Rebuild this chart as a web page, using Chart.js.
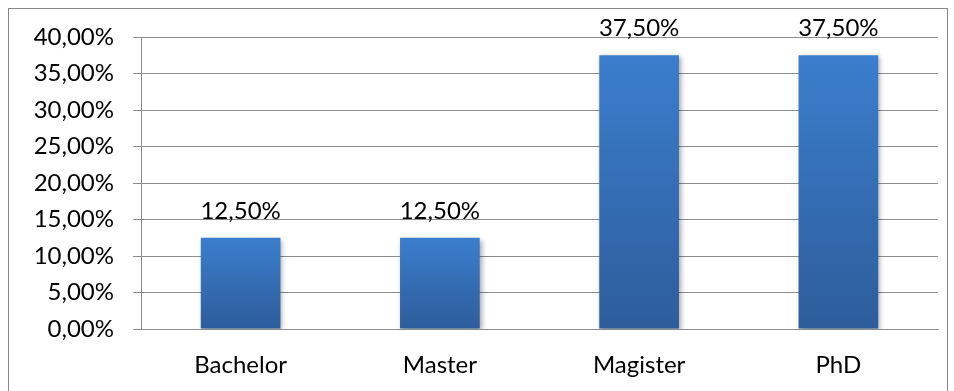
<!DOCTYPE html>
<html>
<head>
<meta charset="utf-8">
<script src="https://cdn.jsdelivr.net/npm/chart.js@4"></script>
<style>
  html, body { margin: 0; padding: 0; background: #fff; }
  #wrap { position: relative; width: 954px; height: 391px; }
</style>
</head>
<body>
<div id="wrap"><canvas id="chart" width="954" height="391"></canvas></div>
<script>
const categories = ['Bachelor', 'Master', 'Magister', 'PhD'];
const shares = [12.5, 12.5, 37.5, 37.5];
const yTicks = [0, 5, 10, 15, 20, 25, 30, 35, 40];

const FONT = 'Lato, "Open Sans", sans-serif';
const FONT_SIZE = 24;
const GRID = '#8c8c8c';

function pct(v) {
  return v.toFixed(2).replace('.', ',') + '%';
}

// outer frame of the chart object
const framePlugin = {
  id: 'frame',
  beforeDraw(chart) {
    let ctx = chart.ctx;
    ctx.save();
    ctx.strokeStyle = '#868686';
    ctx.lineWidth = 1;
    ctx.strokeRect(8.5, 8.5, 939, 420);
    ctx.restore();
  }
};

// soft shadow under the bars
const shadowPlugin = {
  id: 'barShadow',
  beforeDatasetsDraw(chart) {
    let ctx = chart.ctx;
    ctx.save();
    ctx.shadowColor = 'rgba(0,0,0,0.35)';
    ctx.shadowBlur = 5;
    ctx.shadowOffsetX = 2;
    ctx.shadowOffsetY = 2;
  },
  afterDatasetsDraw(chart) {
    chart.ctx.restore();
  }
};

// value labels above each bar
const valueLabels = {
  id: 'valueLabels',
  afterDatasetsDraw(chart) {
    let ctx = chart.ctx;
    let meta = chart.getDatasetMeta(0);
    ctx.save();
    ctx.font = FONT_SIZE + 'px ' + FONT;
    ctx.fillStyle = '#000';
    ctx.textAlign = 'center';
    ctx.textBaseline = 'alphabetic';
    meta.data.forEach((bar, i) => {
      ctx.fillText(pct(shares[i]), bar.x, bar.y - 19);
    });
    ctx.restore();
  }
};

function barGradient(context) {
  let chart = context.chart;
  let y = chart.scales.y;
  if (!chart.chartArea || !y) return '#3a7dcb';
  let v = context.raw;
  let top = y.getPixelForValue(v);
  let bottom = y.getPixelForValue(0);
  let g = chart.ctx.createLinearGradient(0, top, 0, bottom);
  g.addColorStop(0, '#3b7ecd');
  g.addColorStop(1, '#2d5d9b');
  return g;
}

new Chart(document.getElementById('chart'), {
  type: 'bar',
  data: {
    labels: categories,
    datasets: [{
      data: shares,
      backgroundColor: barGradient,
      borderWidth: 0,
      barPercentage: 0.5,
      categoryPercentage: 0.8
    }]
  },
  options: {
    responsive: false,
    animation: false,
    layout: { padding: { top: 37, right: 16, left: 0, bottom: 0 } },
    plugins: {
      legend: { display: false },
      tooltip: { enabled: false }
    },
    scales: {
      x: {
        grid: { display: false },
        border: { color: GRID, width: 1 },
        ticks: {
          color: '#000',
          font: { family: FONT, size: FONT_SIZE },
          padding: 14
        },
        afterFit(scale) { scale.height = 391 - 329; }
      },
      y: {
        min: 0,
        max: 40,
        afterBuildTicks(scale) {
          scale.ticks = yTicks.map(v => ({ value: v }));
        },
        grid: { color: GRID, lineWidth: 1, tickLength: 8 },
        border: { color: GRID, width: 1 },
        ticks: {
          color: '#000',
          font: { family: FONT, size: FONT_SIZE },
          padding: 19,
          callback: v => pct(v)
        },
        afterFit(scale) { scale.width = 141; }
      }
    }
  },
  plugins: [framePlugin, shadowPlugin, valueLabels]
});
</script>
</body>
</html>
